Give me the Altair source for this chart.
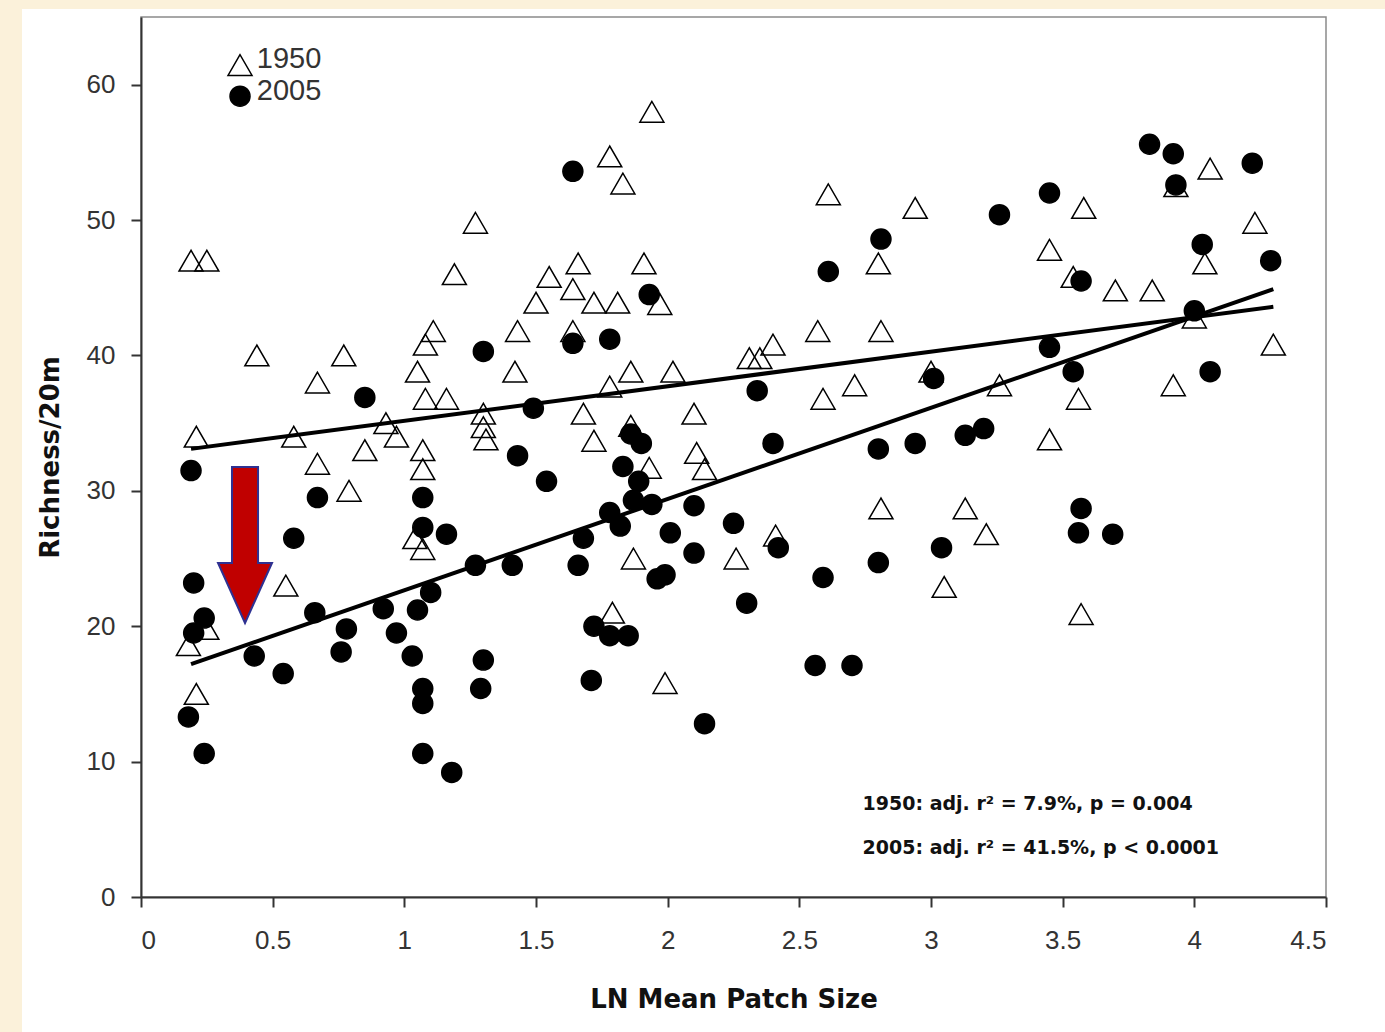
import altair as alt
import pandas as pd

# ---------------- data ----------------
years = ["1950", "2005"]

x_1950 = [0.19, 0.25, 0.21, 0.18, 0.25, 0.21, 0.44, 0.55, 0.58, 0.67, 0.67, 0.77, 0.79, 0.85,
          0.93, 0.97, 1.04, 1.07, 1.07, 1.07, 1.08, 1.05, 1.08, 1.11, 1.16, 1.19, 1.27, 1.30,
          1.30, 1.31, 1.42, 1.43, 1.50, 1.55, 1.64, 1.66, 1.64, 1.68, 1.72, 1.72, 1.78, 1.83,
          1.81, 1.78, 1.86, 1.86, 1.87, 1.79, 1.91, 1.94, 1.97, 1.93, 1.99, 2.02, 2.10, 2.11,
          2.14, 2.26, 2.31, 2.35, 2.40, 2.41, 2.57, 2.59, 2.61, 2.71, 2.80, 2.81, 2.81, 2.94,
          3.00, 3.05, 3.13, 3.21, 3.26, 3.45, 3.45, 3.54, 3.58, 3.56, 3.57, 3.70, 3.84, 3.92,
          3.93, 4.00, 4.04, 4.06, 4.23, 4.30]
y_1950 = [47, 47, 34, 18.6, 19.8, 15, 40, 23, 34, 32, 38, 40, 30, 33,
          35, 34, 26.5, 25.7, 33, 31.6, 36.8, 38.8, 40.8, 41.8, 36.8, 46, 49.8, 35.7,
          34.7, 33.8, 38.8, 41.8, 43.9, 45.8, 44.9, 46.8, 41.8, 35.7, 33.7, 43.9, 54.7, 52.7,
          43.9, 37.7, 38.8, 34.8, 25, 21, 46.8, 58, 43.8, 31.7, 15.8, 38.8, 35.7, 32.8,
          31.6, 25, 39.8, 39.8, 40.8, 26.7, 41.8, 36.8, 51.9, 37.8, 46.8, 41.8, 28.7, 50.9,
          38.8, 22.9, 28.7, 26.8, 37.8, 47.8, 33.8, 45.8, 50.9, 36.8, 20.9, 44.8, 44.8, 37.8,
          52.5, 42.8, 46.8, 53.8, 49.8, 40.8]

x_2005 = [0.19, 0.58, 0.67, 0.85, 1.07, 1.07, 1.16, 0.20, 0.24, 0.20, 0.18, 0.24, 0.43, 0.54,
          0.66, 0.78, 0.76, 0.92, 0.97, 1.05, 1.10, 1.03, 1.07, 1.07, 1.07, 1.18, 1.27, 1.41,
          1.30, 1.29, 1.43, 1.54, 1.66, 1.68, 1.71, 1.72, 1.78, 1.78, 1.82, 1.85, 1.64, 1.30,
          1.49, 1.64, 1.78, 1.93, 1.86, 1.90, 1.83, 1.89, 1.87, 1.94, 2.10, 2.25, 2.01, 2.10,
          1.96, 1.99, 2.34, 2.40, 2.42, 2.30, 2.14, 2.56, 2.70, 2.59, 2.61, 2.81, 2.80, 2.80,
          2.94, 3.01, 3.04, 3.13, 3.20, 3.26, 3.45, 3.45, 3.57, 3.54, 3.57, 3.56, 3.69, 3.83,
          3.92, 3.93, 4.03, 4.00, 4.06, 4.22, 4.29]
y_2005 = [31.5, 26.5, 29.5, 36.9, 29.5, 27.3, 26.8, 23.2, 20.6, 19.5, 13.3, 10.6, 17.8, 16.5,
          21.0, 19.8, 18.1, 21.3, 19.5, 21.2, 22.5, 17.8, 15.4, 14.3, 10.6, 9.2, 24.5, 24.5,
          17.5, 15.4, 32.6, 30.7, 24.5, 26.5, 16.0, 20.0, 19.3, 28.4, 27.4, 19.3, 53.6, 40.3,
          36.1, 40.9, 41.2, 44.5, 34.2, 33.5, 31.8, 30.7, 29.3, 29.0, 28.9, 27.6, 26.9, 25.4,
          23.5, 23.8, 37.4, 33.5, 25.8, 21.7, 12.8, 17.1, 17.1, 23.6, 46.2, 48.6, 33.1, 24.7,
          33.5, 38.3, 25.8, 34.1, 34.6, 50.4, 52.0, 40.6, 45.5, 38.8, 28.7, 26.9, 26.8, 55.6,
          54.9, 52.6, 48.2, 43.3, 38.8, 54.2, 47.0]

# fitted regression lines (end points)
fit_x = [0.19, 4.30]
fit_1950 = [33.1, 43.6]
fit_2005 = [17.2, 44.9]

# statistics annotation
note_text = ["1950: adj. r\u00b2 = 7.9%, p = 0.004", "2005: adj. r\u00b2 = 41.5%, p < 0.0001"]
note_x = [2.74, 2.74]
note_y = [6.9, 3.6]

# legend (drawn inside the plot, top left)
legend_x = [0.376, 0.376]
legend_y = [61.45, 59.15]
legend_text_x = [0.44, 0.44]
legend_text_y = [61.9, 59.5]

# red arrow annotation (centre of the arrow)
arrow_x = [0.395]
arrow_y = [26.0]

x_ticks = [0, 0.5, 1, 1.5, 2, 2.5, 3, 3.5, 4, 4.5]
y_ticks = [0, 10, 20, 30, 40, 50, 60]

# ---------------- tables ----------------
pts = pd.concat([
    pd.DataFrame({"x": x_1950, "y": y_1950, "year": years[0]}),
    pd.DataFrame({"x": x_2005, "y": y_2005, "year": years[1]}),
], ignore_index=True)

fits = pd.concat([
    pd.DataFrame({"x": fit_x, "y": fit_1950, "year": years[0]}),
    pd.DataFrame({"x": fit_x, "y": fit_2005, "year": years[1]}),
], ignore_index=True)

notes = pd.DataFrame({"x": note_x, "y": note_y, "t": note_text})
arrow = pd.DataFrame({"x": arrow_x, "y": arrow_y})
leg_sym = pd.DataFrame({"x": legend_x, "y": legend_y, "year": years})
leg_txt = pd.DataFrame({"x": legend_text_x, "y": legend_text_y, "t": years})

FONT = "Liberation Sans"
W, H = 1185, 880
PAD = {"left": 141, "top": 17, "right": 59, "bottom": 135}

xs = alt.Scale(domain=[0, 4.5], nice=False, zero=False)
ys = alt.Scale(domain=[0, 65], nice=False, zero=False)

X = alt.X("x:Q", scale=xs, title="LN Mean Patch Size",
          axis=alt.Axis(values=x_ticks, format="~g", titleY=102, titleBaseline="middle"))
Y = alt.Y("y:Q", scale=ys, title="Richness/20m",
          axis=alt.Axis(values=y_ticks, titleX=-91, titleBaseline="middle"))
Xp = alt.X("x:Q", scale=xs)
Yp = alt.Y("y:Q", scale=ys)

shape_scale = alt.Scale(domain=years, range=["triangle-up", "circle"])
fill_scale = alt.Scale(domain=years, range=["transparent", "black"])

points = alt.Chart(pts).mark_point(opacity=1, strokeWidth=1.5, stroke="black").encode(
    x=X, y=Y,
    shape=alt.Shape("year:N", scale=shape_scale, legend=None),
    fill=alt.Fill("year:N", scale=fill_scale, legend=None),
    size=alt.Size("year:N", scale=alt.Scale(domain=years, range=[576, 400]), legend=None),
)

legend_symbols = alt.Chart(leg_sym).mark_point(opacity=1, strokeWidth=1.5, stroke="black").encode(
    x=Xp, y=Yp,
    shape=alt.Shape("year:N", scale=shape_scale, legend=None),
    fill=alt.Fill("year:N", scale=fill_scale, legend=None),
    size=alt.Size("year:N", scale=alt.Scale(domain=years, range=[400, 160]), legend=None),
)
legend_labels = alt.Chart(leg_txt).mark_text(
    align="left", baseline="middle", font=FONT, fontSize=29, color="#333333"
).encode(x=Xp, y=Yp, text="t:N")

lines = alt.Chart(fits).mark_line(color="black", strokeWidth=4).encode(
    x=Xp, y=Yp, detail="year:N"
)

arrow_path = "M-0.167,-1 L0.167,-1 L0.167,0.23 L0.346,0.23 L0,1 L-0.346,0.23 L-0.167,0.23 Z"
arrow_mark = alt.Chart(arrow).mark_point(
    shape=arrow_path, filled=True, fill="#C00000", stroke="#2E3192", strokeWidth=2,
    opacity=1, size=156 * 156
).encode(x=Xp, y=Yp)

note_mark = alt.Chart(notes).mark_text(
    align="left", baseline="middle", font="DejaVu Sans", fontWeight="bold",
    fontSize=19, color="#111111"
).encode(x=Xp, y=Yp, text="t:N")

one = pd.DataFrame({"a": [0]})
cream = "#FBF1DA"
strip_left = alt.Chart(one).mark_rect(color=cream).encode(
    x=alt.value(-141), x2=alt.value(-119), y=alt.value(-17), y2=alt.value(H + 135))
strip_top = alt.Chart(one).mark_rect(color=cream).encode(
    x=alt.value(-141), x2=alt.value(W + 59), y=alt.value(-17), y2=alt.value(-8))

chart = alt.layer(
    strip_left, strip_top, points, lines, arrow_mark, note_mark, legend_symbols, legend_labels
).properties(
    width=W, height=H, padding=PAD, autosize=alt.AutoSizeParams(type="none"),
    background="white"
).configure_view(
    stroke="#8a8a8a", strokeWidth=1.5, fill="white"
).configure_axis(
    grid=False, labelFont=FONT, labelFontSize=26, labelColor="#333333",
    titleFont="DejaVu Sans", titleFontSize=26, titleFontWeight="bold", titleColor="#111111",
    domainColor="#333333", domainWidth=2, tickColor="#333333", tickWidth=2, tickSize=10,
    labelPadding=20
).configure_axisY(labelPadding=16)

chart.save("out.html", embed_options={"renderer": "svg", "actions": False})
